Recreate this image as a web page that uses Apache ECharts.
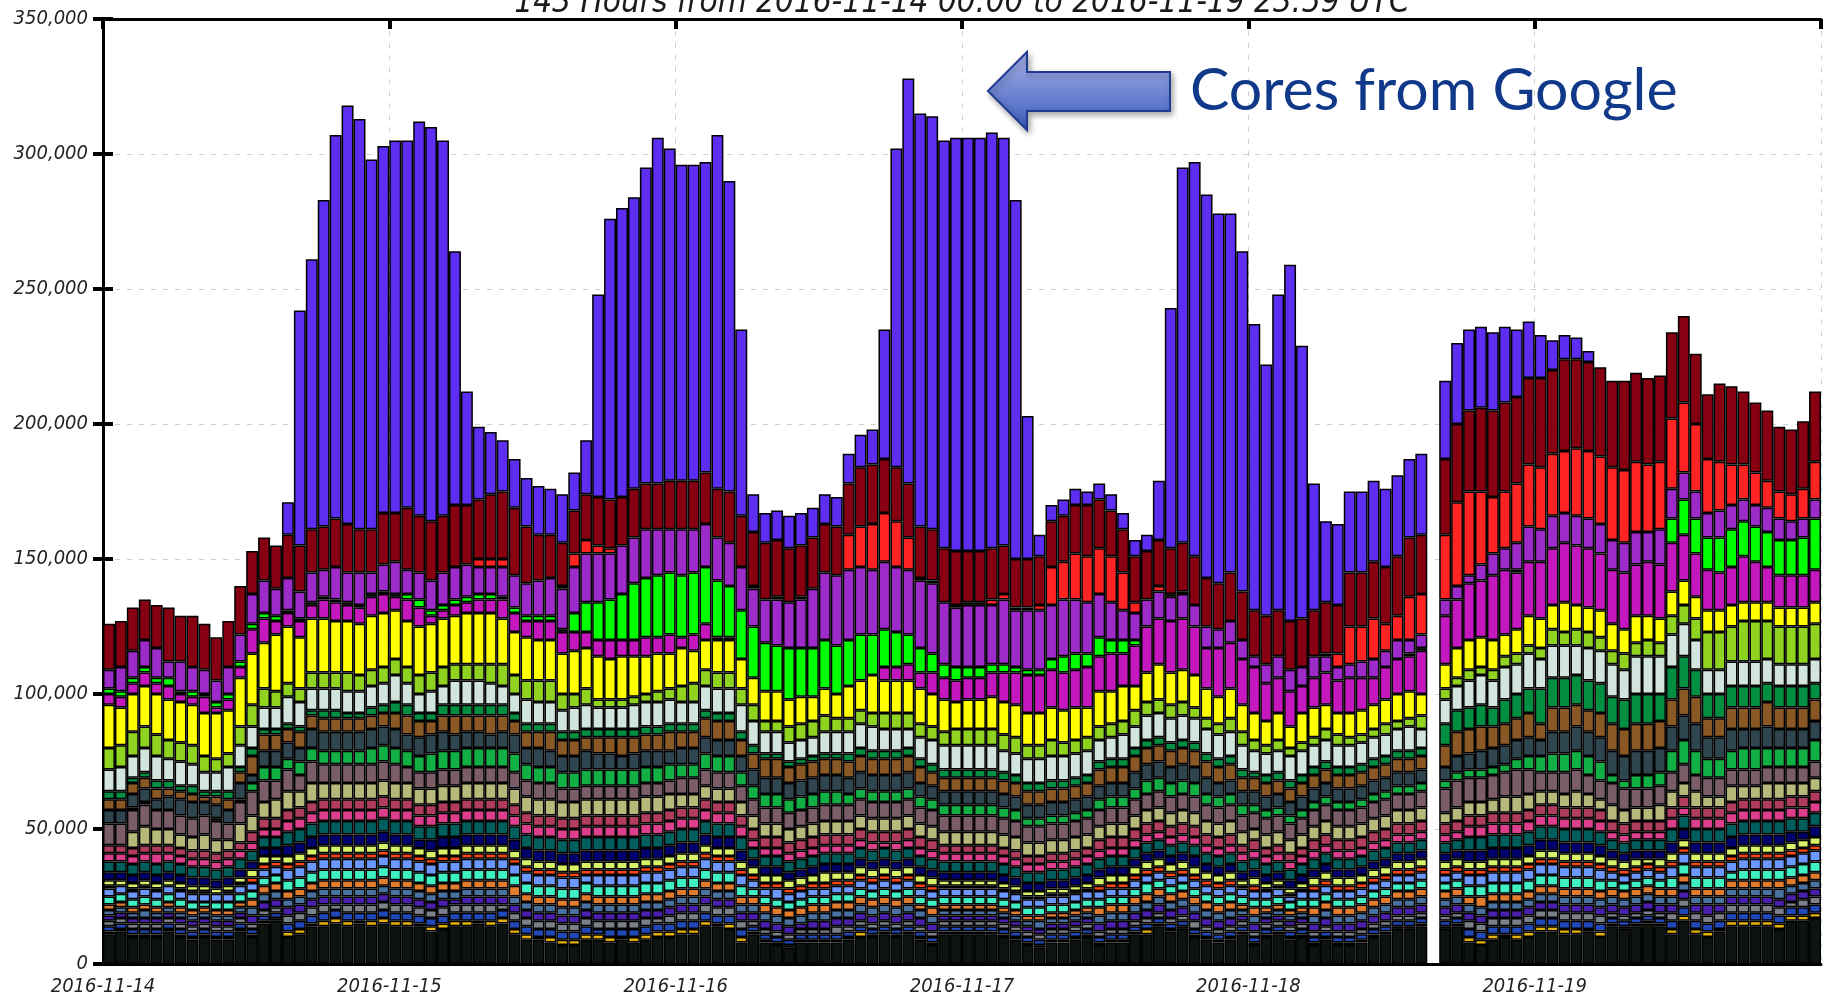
<!DOCTYPE html>
<html>
<head>
<meta charset="utf-8">
<title>Cores per hour</title>
<script src="https://cdn.jsdelivr.net/npm/echarts@6/dist/echarts.min.js"></script>
<style>
  html, body { margin: 0; padding: 0; background: #fff; }
  #chart { width: 1830px; height: 999px; }
</style>
</head>
<body>
<div id="chart"></div>
<script>
// all values in thousands of cores, one entry per hour (144 slots, hour 111 has no data)
var dayLabels = ['2016-11-14', '2016-11-15', '2016-11-16', '2016-11-17', '2016-11-18', '2016-11-19'];
var yTicks = [0, 50000, 100000, 150000, 200000, 250000, 300000, 350000];

// cumulative tops of the big layers
var topTotal = [
126,127,132,135,133,132,129,129,126,121,127,140,153,158,155,171,242,261,283,307,318,313,298,303,
305,305,312,310,305,264,212,199,197,194,187,180,177,176,174,182,194,248,276,280,284,295,306,302,
296,296,297,307,290,235,174,167,168,166,167,169,174,173,189,196,198,235,302,328,315,314,305,306,
306,306,308,306,283,203,159,170,172,176,175,178,174,167,157,159,179,243,295,297,285,278,278,264,
237,222,248,259,229,178,164,163,175,175,179,176,181,187,189,null,216,230,235,236,234,236,235,238,
233,231,233,232,227,221,216,216,219,217,218,234,240,226,211,215,214,212,208,205,199,198,201,212];
var topDarkRed = [
126,127,132,135,133,132,129,129,126,121,127,140,153,158,155,159,155,161,162,165,163,161,161,167,
167,169,166,164,166,170,170,172,174,175,169,162,159,159,156,168,174,173,172,173,176,178,178,179,
179,179,182,176,175,166,160,156,157,154,155,158,163,162,178,184,185,187,184,178,162,161,154,153,
153,153,154,155,150,150,151,164,166,170,170,172,168,161,151,153,157,154,156,151,143,141,145,138,
131,129,131,127,128,131,134,133,145,145,149,147,151,158,159,null,187,200,205,206,205,208,210,217,
217,220,224,224,223,221,216,216,219,217,218,234,240,226,211,215,214,212,208,205,199,198,201,212];
var topRed = [
109,110,116,120,117,112,112,110,109,105,110,122,137,142,139,143,138,145,146,147,145,145,145,148,
149,146,145,142,145,147,148,150,150,150,144,141,142,143,140,152,157,155,154,155,158,161,161,161,
161,161,163,158,156,147,140,135,136,134,136,139,145,144,159,162,163,167,164,158,143,142,134,133,
134,134,135,137,132,132,133,147,149,152,151,154,151,145,134,135,140,137,138,133,125,124,127,120,
114,111,114,109,110,114,115,115,125,125,128,126,129,136,137,null,159,171,175,175,173,175,178,185,
184,189,190,191,190,188,184,183,186,185,186,202,208,200,187,186,185,185,182,179,175,174,176,186];
var topPurple = [
109,110,116,120,117,112,112,110,109,105,110,122,137,142,139,143,138,145,146,147,145,145,145,148,
149,146,145,142,145,147,148,147,147,147,144,141,142,143,139,147,152,152,152,155,158,161,161,161,
161,161,163,158,156,147,139,135,135,134,135,139,145,144,146,147,146,149,147,146,142,141,134,132,
133,133,133,135,131,131,131,133,135,135,134,137,134,131,130,135,138,136,137,133,125,124,127,120,
114,111,114,109,110,114,114,110,111,112,113,116,120,120,122,null,135,140,144,148,152,154,156,162,
161,166,167,166,165,163,157,156,160,160,161,176,182,175,167,168,170,172,170,169,165,164,165,172];
var topGreen = [
102,101,106,110,106,106,101,101,100,97,100,112,126,130,129,131,128,134,136,135,134,133,137,138,
137,137,135,131,133,135,136,137,137,136,132,129,129,129,124,130,134,134,135,137,141,143,144,145,
144,145,147,142,140,131,125,119,118,117,117,117,120,118,120,122,122,124,123,122,117,115,111,110,
110,110,111,111,110,109,109,113,114,115,115,121,120,120,120,125,128,127,128,125,117,117,119,113,
110,104,106,101,103,106,108,105,106,106,106,110,113,115,117,null,129,135,141,142,144,146,146,149,
149,154,156,155,154,152,146,145,148,149,148,165,172,165,158,158,161,164,162,160,157,157,158,165];
var topMagenta = [
100,99,104,108,104,103,100,99,99,95,98,110,124,128,127,130,127,133,135,134,133,132,136,137,
136,135,132,129,131,133,134,135,135,135,130,127,127,127,123,123,123,120,120,120,120,121,121,122,
121,122,126,121,121,113,106,101,101,98,99,99,102,100,103,105,107,110,110,111,108,108,106,105,
106,106,108,108,108,107,107,109,108,109,110,114,115,115,118,125,128,127,128,125,117,117,119,113,
110,104,106,101,103,106,108,105,106,106,106,110,113,114,116,null,129,135,141,142,144,146,145,149,
149,154,156,155,154,152,146,145,148,149,148,156,159,152,146,145,147,151,149,147,144,144,144,146];
var topYellow = [
96,95,100,103,100,98,97,96,93,93,94,106,115,119,122,125,121,128,128,127,127,126,129,130,
131,127,125,126,128,129,130,130,130,128,123,121,120,120,115,116,117,114,113,114,114,114,115,115,
117,116,120,120,120,113,106,101,101,98,99,99,102,100,103,105,107,105,105,105,102,100,98,97,
98,98,99,97,96,93,93,95,94,95,95,101,101,103,103,108,111,108,109,107,102,99,102,96,
93,90,93,88,93,95,96,93,93,94,96,98,100,101,100,null,111,117,120,121,120,122,124,129,
128,133,134,133,132,131,126,124,129,129,128,138,142,136,131,131,133,134,134,134,132,132,132,134];
var topYellowGreen = [
80,81,86,88,85,83,82,81,77,76,78,88,96,102,101,104,102,108,108,108,108,107,109,110,
113,110,107,108,110,111,111,111,111,111,107,105,105,105,100,100,102,98,98,98,99,100,101,102,
103,104,109,108,108,102,96,90,90,88,89,90,92,91,91,94,93,93,93,93,89,88,86,87,
87,87,87,85,84,81,81,83,82,83,84,88,89,90,94,97,98,96,97,95,91,89,91,86,
83,81,83,80,82,84,87,85,84,85,87,89,90,91,92,null,102,106,109,110,109,114,115,118,
117,124,123,124,123,121,116,115,119,120,119,129,133,128,123,123,125,127,127,127,125,125,125,126];
var topLightGray = [
72,73,77,80,77,76,75,74,71,71,73,81,88,95,95,99,97,102,102,102,101,101,103,104,
107,104,100,101,103,105,105,105,104,103,100,98,97,97,94,95,96,95,95,95,96,97,97,98,
97,97,103,102,102,96,90,86,86,82,83,84,86,86,86,89,88,87,87,87,84,83,81,81,
81,81,81,79,78,76,76,77,77,78,79,83,84,85,88,92,93,91,92,91,87,85,86,81,
79,78,79,77,79,81,83,81,81,82,84,85,87,88,87,null,98,103,105,107,105,110,111,115,
113,118,118,118,117,116,111,109,114,114,114,122,126,120,109,109,112,112,112,113,111,111,111,113];

// middle layers (thickness)
var darkGreen = [
3,3,2,2,3,3,2,3,2,2,3,2,3,2,2,2,2,2,3,3,2,2,3,3,
4,4,3,3,4,4,4,4,4,4,3,3,3,3,3,3,3,3,3,3,3,3,3,3,
3,3,3,3,3,3,3,2,2,2,2,2,2,2,3,3,3,3,3,3,3,3,3,3,
3,3,3,3,3,3,3,3,3,3,3,3,3,3,3,3,3,3,3,3,3,3,3,3,
2,3,3,3,3,3,3,3,3,3,3,3,3,3,3,0,8,8,8,8,7,9,9,9,
13,11,11,11,11,11,10,11,11,11,10,12,12,10,9,9,8,8,8,7,8,8,8,6];
var brown = [
4,4,4,4,4,3,3,3,2,3,4,4,7,6,6,5,6,5,5,5,5,5,5,5,
6,7,6,5,6,7,6,6,7,6,5,6,6,7,6,6,5,6,6,7,6,6,6,7,
6,6,7,7,7,6,6,7,7,6,6,6,6,6,6,6,6,6,6,6,6,5,5,5,
5,5,5,5,5,5,5,5,5,5,5,6,6,6,6,6,6,6,6,6,6,6,6,5,
5,5,5,5,5,5,5,5,5,5,5,5,5,5,5,0,8,9,9,9,8,8,8,9,
6,9,9,8,8,9,10,10,10,10,10,10,10,10,7,7,8,8,8,9,8,8,8,8];
var slate = [
5,5,5,5,4,5,6,6,5,5,5,6,3,6,6,6,5,7,7,7,7,7,7,7,
7,6,7,7,7,6,6,6,5,6,7,6,7,6,6,6,7,6,6,5,6,6,6,5,
6,6,6,6,6,6,6,6,6,6,6,6,6,6,6,6,6,6,6,6,5,5,5,5,
5,5,5,5,5,5,5,5,5,5,5,5,5,5,6,6,6,6,6,6,6,5,5,5,
5,5,5,5,5,5,5,5,5,5,5,5,5,5,5,0,5,6,6,7,7,7,7,7,
6,8,8,9,9,9,9,9,9,9,9,9,9,10,8,8,8,7,7,8,7,7,7,7];
var midGreen = [
0,0,1,1,0,0,0,0,0,1,0,1,3,5,5,4,5,5,5,5,5,5,6,6,
6,6,6,7,7,7,7,7,7,7,7,6,6,6,6,6,6,6,6,6,6,6,6,6,
5,5,6,6,6,5,5,5,5,5,5,5,5,5,4,4,4,4,4,4,4,4,4,4,
4,4,4,4,4,3,3,3,3,3,3,4,4,4,4,5,5,5,5,5,4,4,4,4,
3,3,3,3,3,3,3,3,3,3,3,3,3,3,3,0,3,3,3,3,3,3,4,5,
6,7,7,7,7,7,3,3,5,5,5,8,9,9,7,7,7,8,8,7,7,7,7,8];
var mauve = [
8,8,8,8,7,7,7,7,7,7,6,8,9,8,7,8,6,8,7,7,7,7,7,7,
7,6,6,6,6,6,6,6,6,6,6,6,6,6,5,5,5,5,5,5,5,5,5,5,
6,6,6,6,6,6,6,6,6,6,6,6,6,6,6,6,6,6,6,6,6,6,6,6,
6,6,6,6,6,6,6,6,6,6,6,6,6,6,6,6,6,6,6,6,6,6,6,6,
6,6,6,6,6,6,6,6,6,6,6,6,6,6,6,0,9,10,9,9,9,9,10,9,
7,7,8,8,7,7,8,8,7,7,7,7,7,6,7,7,6,6,6,6,6,6,6,6];
var khaki = [
0,0,6,7,6,6,5,5,6,5,4,7,6,6,7,7,6,7,6,6,6,6,6,6,
6,6,6,6,6,6,6,6,6,6,6,6,6,6,6,6,6,6,6,6,6,6,6,6,
5,5,5,5,5,5,5,5,5,5,5,5,5,5,5,5,5,5,5,5,5,5,5,5,
5,5,5,5,5,5,5,5,5,5,5,5,5,5,5,5,5,5,5,5,5,5,5,5,
4,5,5,5,5,5,5,5,5,5,5,5,5,5,5,0,4,5,5,5,5,6,6,6,
5,5,5,6,5,4,6,5,5,5,6,6,5,6,4,4,6,5,5,6,6,5,5,5];

// top of the thin multicoloured strips at the bottom
var topThin = [
44,44,43,44,44,44,43,42,42,41,42,45,49,54,54,57,58,60,61,61,61,61,61,62,
61,61,59,59,60,60,61,61,61,61,59,56,55,55,54,54,55,55,55,55,55,56,56,57,
58,58,61,60,60,55,50,47,47,45,46,47,48,48,48,50,49,49,49,50,47,46,44,44,
44,44,44,43,42,40,40,41,41,42,43,46,47,47,50,52,53,51,52,51,48,47,48,44,
46,43,44,41,43,46,48,46,46,47,49,50,52,52,53,0,52,53,55,55,56,56,56,57,
59,59,58,58,58,57,53,52,53,53,53,58,62,58,58,58,60,61,61,61,61,62,62,64];

var gold = [
1,1,1,1,1,1,1,1,1,1,1,1,1,1,1,2,2,1,2,2,2,1,2,2,
2,2,1,2,2,2,2,1,2,2,2,2,1,2,2,2,2,2,2,1,2,2,2,2,
2,2,2,1,2,2,1,1,1,1,1,1,1,1,1,2,1,1,1,1,1,1,1,1,
1,1,1,1,1,1,1,1,1,1,1,1,1,1,1,2,1,1,1,1,1,1,1,1,
1,1,1,1,1,1,1,1,1,1,1,1,1,1,1,0,1,1,2,2,2,1,2,2,
2,2,2,2,1,2,1,1,1,1,1,2,2,2,2,1,2,2,2,2,2,2,2,2];
var blue = [
2,2,2,2,2,2,2,2,2,2,2,2,2,2,2,3,3,3,3,3,3,3,3,3,
3,3,3,3,3,3,3,3,3,3,3,3,3,3,3,3,3,2,3,3,3,3,3,3,
3,3,3,3,3,3,2,2,2,2,2,2,2,2,2,2,2,2,2,2,2,2,2,2,
2,2,2,2,2,2,2,2,2,2,2,2,2,2,2,2,2,2,2,2,2,2,2,2,
2,2,2,2,2,2,2,2,2,2,2,2,2,2,2,0,2,2,3,3,3,3,3,3,
3,3,3,3,3,3,2,2,2,2,2,3,3,3,3,3,3,3,3,3,3,3,3,3];
var gray = [
2,2,2,2,2,2,2,2,2,2,2,2,2,2,2,3,3,3,3,2,3,3,3,3,
3,3,3,3,3,3,3,3,3,2,3,3,3,3,3,3,3,3,3,3,3,3,2,3,
3,3,3,3,3,3,2,2,2,2,2,2,2,3,2,2,2,2,2,2,2,2,2,2,
2,2,2,2,2,2,2,2,2,2,2,2,2,2,2,2,2,2,2,3,2,2,2,2,
2,2,2,2,2,2,2,2,2,2,2,2,2,2,2,0,2,2,3,3,3,3,3,3,
3,3,3,3,3,3,2,2,2,2,2,3,3,3,3,3,3,3,3,3,3,2,3,3];
var indigo = [
2,2,2,2,2,2,2,2,2,2,2,2,3,3,3,3,3,3,3,3,3,3,3,3,
3,3,3,3,3,2,3,3,3,3,3,3,3,3,3,3,3,3,3,3,3,3,3,3,
3,3,3,3,3,3,3,3,3,3,2,3,3,3,3,3,3,3,3,3,3,3,2,2,
2,2,2,2,2,2,2,2,2,2,2,3,3,3,3,3,3,3,3,3,3,3,3,2,
3,2,2,2,2,3,3,3,3,3,3,3,3,3,3,0,3,3,3,3,3,3,3,3,
3,3,3,3,3,3,3,3,3,3,3,3,3,3,4,3,3,3,3,3,3,3,3,3];
var steel = [
2,2,2,3,2,2,2,2,2,2,2,2,3,3,3,3,3,3,3,3,3,3,3,3,
3,3,3,3,3,3,3,3,3,3,3,3,3,3,3,3,3,3,3,3,3,3,3,3,
3,3,3,3,3,3,3,3,3,3,3,3,3,3,3,3,3,3,3,3,3,3,2,2,
2,2,2,2,2,2,3,2,2,2,2,3,3,3,3,3,3,3,3,3,3,3,3,2,
3,2,2,2,2,3,3,3,3,3,3,3,3,3,3,0,3,3,3,3,3,3,3,3,
3,3,3,3,3,3,3,3,3,3,3,3,3,3,3,3,3,3,3,3,4,3,3,3];
var orange = [
2,2,2,2,2,2,2,2,2,2,2,2,3,3,3,3,3,3,3,3,3,3,3,3,
3,3,3,3,3,3,3,3,3,3,4,3,3,3,3,3,3,3,3,3,3,3,3,3,
3,3,3,3,3,3,3,3,3,3,3,3,3,3,3,3,3,3,3,3,2,3,2,2,
2,2,2,2,2,2,2,2,2,2,2,3,3,3,3,3,3,3,3,3,3,3,3,2,
3,2,2,2,2,3,3,3,3,3,3,3,3,3,3,0,3,3,3,4,3,3,3,3,
3,3,3,3,3,3,3,3,3,3,3,3,3,3,3,3,3,3,3,3,3,3,3,3];
var aqua = [
3,3,3,3,3,3,3,3,2,3,3,3,3,3,3,4,4,4,4,4,4,4,4,4,
4,4,4,4,4,4,4,4,4,4,4,4,4,4,4,4,4,4,4,4,4,4,4,4,
4,4,4,4,4,4,3,3,3,3,3,3,3,3,3,3,3,3,3,3,3,3,3,3,
3,3,3,3,3,3,3,3,3,3,3,3,3,3,3,4,3,3,3,3,3,3,3,3,
3,3,3,3,3,3,3,3,3,3,3,3,3,3,3,0,3,3,4,4,4,4,4,4,
4,4,4,4,4,4,3,3,3,3,3,4,4,4,4,4,3,4,4,4,4,4,4,4];
var lightBlue = [
3,3,3,3,3,3,3,3,3,3,3,3,3,3,3,4,4,4,4,4,4,4,4,4,
4,4,4,4,4,4,4,4,4,4,4,4,4,4,4,4,3,4,4,4,4,4,4,4,
4,4,4,4,4,4,3,3,4,3,3,3,3,3,3,3,3,3,3,3,3,3,3,3,
3,3,3,3,3,3,3,3,3,3,3,3,3,3,3,3,3,3,3,3,3,3,3,3,
3,3,3,2,3,3,3,3,3,3,3,3,3,3,3,0,3,3,4,4,4,4,4,4,
4,4,4,4,4,4,3,3,3,3,3,4,4,4,4,4,4,4,4,4,4,4,4,4];
var orangeRed = [
1,0,1,1,1,0,1,1,1,0,1,1,2,2,2,2,2,2,2,2,2,2,2,2,
2,2,2,2,2,2,2,2,2,2,2,2,2,2,2,2,2,2,2,2,2,2,2,2,
2,2,2,2,2,2,2,2,2,2,2,2,2,2,2,2,2,2,2,2,2,2,1,1,
1,1,1,1,1,1,1,1,1,1,1,2,2,2,2,2,2,2,2,2,2,2,2,1,
2,1,1,1,1,2,2,2,2,2,2,2,2,2,2,0,2,2,2,2,2,2,2,2,
2,2,2,2,2,2,2,2,2,2,2,2,2,2,2,2,2,2,2,2,2,2,2,2];
var lime = [
2,2,2,2,2,2,2,2,2,2,2,2,3,3,2,3,3,3,3,3,3,3,3,3,
3,3,3,3,3,3,3,3,3,3,3,3,3,3,3,3,3,3,3,3,3,3,3,3,
3,3,3,3,3,3,3,3,3,3,3,3,4,3,3,3,3,3,3,3,3,3,2,2,
2,2,2,2,2,2,2,2,2,2,2,3,3,3,3,3,3,3,3,3,3,3,3,2,
3,2,2,2,2,3,3,3,3,3,3,3,3,3,3,0,3,3,3,3,3,3,3,3,
3,3,3,3,3,3,3,3,3,2,3,3,3,3,3,3,3,3,3,3,3,3,3,3];
var navy = [
3,3,3,3,3,3,3,3,3,3,3,3,3,3,3,4,4,4,4,4,4,4,4,4,
4,4,3,4,4,4,4,4,4,4,4,4,4,4,4,4,4,4,4,4,4,4,4,4,
4,4,4,4,4,4,3,3,3,3,3,3,3,3,3,3,3,3,3,3,3,3,3,3,
3,3,3,3,3,3,3,3,3,3,3,3,3,3,3,3,3,3,3,4,3,3,3,3,
3,3,3,3,3,3,3,3,3,3,3,3,3,3,3,0,3,3,4,4,4,4,4,4,
4,4,4,4,4,4,3,3,3,3,3,4,4,4,4,4,4,4,4,4,4,4,3,4];
var teal = [
4,4,4,4,4,4,4,4,4,4,4,4,4,4,4,5,5,5,5,5,5,5,5,5,
5,5,5,5,5,5,5,5,5,5,5,5,5,5,5,5,5,5,5,5,5,5,5,5,
5,5,5,5,5,5,4,4,4,4,4,4,4,4,4,4,4,4,4,4,4,4,4,4,
4,4,4,4,4,4,4,4,4,4,4,4,4,4,4,4,4,4,4,4,4,4,4,4,
4,4,4,4,4,4,4,4,4,4,4,4,4,4,4,0,4,4,5,5,5,5,5,5,
5,5,5,5,5,5,4,4,4,4,4,5,5,5,5,5,5,5,5,5,5,5,5,5];
var pink = [
3,3,3,3,4,3,3,3,3,3,3,3,3,3,3,4,4,4,4,4,4,4,4,4,
4,4,4,4,4,4,4,4,4,4,4,4,4,4,4,4,4,4,4,4,4,4,4,4,
4,4,4,4,4,4,3,3,3,3,3,3,3,3,3,3,3,2,3,3,3,3,3,3,
3,3,3,3,3,3,3,3,3,3,3,3,3,3,3,3,3,3,3,3,3,3,3,3,
3,3,3,3,3,3,3,3,3,3,3,3,3,3,3,0,3,3,4,4,4,4,4,4,
4,4,4,4,4,4,3,3,3,3,3,4,3,4,4,4,4,4,4,4,4,4,4,4];
var rose = [
3,3,3,3,3,3,3,3,3,3,3,3,4,4,4,4,4,4,4,4,4,4,4,4,
4,4,4,4,4,4,4,4,4,4,4,4,4,4,4,4,4,4,4,4,4,4,4,4,
4,4,4,4,4,4,4,4,4,4,4,4,4,4,4,4,4,4,4,4,4,4,3,3,
3,3,3,3,3,3,3,3,3,3,3,4,4,4,4,4,4,4,4,4,4,4,4,3,
4,3,3,3,3,4,4,4,4,4,4,4,4,4,4,0,4,4,4,4,4,4,4,4,
4,4,4,4,4,4,4,4,4,4,4,4,4,4,4,4,4,4,4,4,4,4,4,4];

var K = 1000;
var hours = [];
dayLabels.forEach(function (d) {
  for (var h = 0; h < 24; h++) hours.push(d + ' ' + (h < 10 ? '0' : '') + h + ':00');
});

function cell(i, v) {
  if (topTotal[i] == null || !(v > 0)) return null;
  return v * K;
}
function band(top, bottom) {
  return top.map(function (v, i) { return cell(i, v - bottom[i]); });
}
function layer(arr) {
  return arr.map(function (v, i) { return cell(i, v); });
}

var thinLayers = [
  ['gold', '#e6b10a', gold], ['blue', '#2148b8', blue], ['gray', '#7c8088', gray],
  ['indigo', '#4b1fae', indigo], ['steel', '#4a72a0', steel], ['orange', '#e27b2c', orange],
  ['aqua', '#3ef0c2', aqua], ['light blue', '#6c97fc', lightBlue], ['orange red', '#ff4512', orangeRed],
  ['lime', '#d7f266', lime], ['navy', '#02026e', navy], ['teal', '#005e5c', teal],
  ['pink', '#dd3f8d', pink], ['rose', '#b03d5d', rose]
];
var thinSum = topThin.map(function (v, i) {
  var s = 0;
  thinLayers.forEach(function (t) { s += t[2][i]; });
  return s;
});
var midLayers = [
  ['khaki', '#b6b979', khaki], ['mauve', '#7b5d69', mauve], ['mid green', '#12b044', midGreen],
  ['slate', '#2f4550', slate], ['brown', '#8a5824', brown], ['dark green', '#028f42', darkGreen]
];
var midTop = topThin.map(function (v, i) {
  var s = v;
  midLayers.forEach(function (t) { s += t[2][i]; });
  return s;
});

var stack = [['base', '#0d1410', band(topThin, thinSum)]];
thinLayers.forEach(function (t) { stack.push([t[0], t[1], layer(t[2])]); });
midLayers.forEach(function (t) { stack.push([t[0], t[1], layer(t[2])]); });
stack.push(['light gray', '#d2e5dc', band(topLightGray, midTop)]);
stack.push(['yellow green', '#8fd220', band(topYellowGreen, topLightGray)]);
stack.push(['yellow', '#ffff00', band(topYellow, topYellowGreen)]);
stack.push(['magenta', '#c417be', band(topMagenta, topYellow)]);
stack.push(['green', '#00ff00', band(topGreen, topMagenta)]);
stack.push(['purple', '#9c2bc9', band(topPurple, topGreen)]);
stack.push(['red', '#ff2323', band(topRed, topPurple)]);
stack.push(['dark red', '#860012', band(topDarkRed, topRed)]);
stack.push(['Google', '#5d2ef2', band(topTotal, topDarkRed)]);

var series = stack.map(function (s) {
  return {
    name: s[0],
    type: 'bar',
    stack: 'cores',
    xAxisIndex: 0,
    yAxisIndex: 0,
    barCategoryGap: '0%',
    data: s[2],
    itemStyle: { color: s[1], borderColor: '#000', borderWidth: 1.5 }
  };
});

var labelFont = '"DejaVu Sans Condensed", "DejaVu Sans", sans-serif';

// fit the annotation text to its width in the picture
var ctx = document.createElement('canvas').getContext('2d');
ctx.font = '100px Lato';
var noteSize = Math.round(100 * 484 / ctx.measureText('Cores from Google').width);

var chart = echarts.init(document.getElementById('chart'));
chart.setOption({
  animation: false,
  grid: { left: 103, right: 9, top: 19, bottom: 35 },
  xAxis: [{
    type: 'category',
    data: hours,
    show: false
  }, {
    type: 'value',
    min: 0, max: 144, interval: 24,
    position: 'bottom',
    axisLine: { show: true, lineStyle: { color: '#000', width: 3 } },
    axisTick: { show: false },
    axisLabel: {
      formatter: function (v) { return dayLabels[v / 24] || ''; },
      fontFamily: labelFont, fontStyle: 'italic', fontSize: 20, color: '#222', margin: 13
    },
    splitLine: { show: true, lineStyle: { color: '#cfcfcf', type: [5, 7], width: 1 } }
  }, {
    type: 'value',
    min: 0, max: 144, interval: 24,
    position: 'top',
    axisLine: { show: true, lineStyle: { color: '#000', width: 3 } },
    axisTick: { show: true, inside: true, length: 10, lineStyle: { color: '#000', width: 4 } },
    axisLabel: { show: false },
    splitLine: { show: false }
  }],
  yAxis: [{
    type: 'value',
    min: yTicks[0], max: yTicks[yTicks.length - 1], interval: 50000,
    position: 'left',
    axisLine: { show: true, lineStyle: { color: '#000', width: 3 } },
    axisTick: { show: true, inside: true, length: 10, lineStyle: { color: '#000', width: 4 } },
    axisLabel: {
      formatter: function (v) { return v.toLocaleString('en-US'); },
      fontFamily: labelFont, fontStyle: 'italic', fontSize: 20, color: '#222', margin: 15
    },
    splitLine: { show: true, lineStyle: { color: '#cfcfcf', type: [5, 7], width: 1 } }
  }, {
    type: 'value',
    min: yTicks[0], max: yTicks[yTicks.length - 1], interval: 50000,
    position: 'right',
    axisLine: { show: true, lineStyle: { color: '#000', width: 3 } },
    axisTick: { show: true, inside: true, length: 10, lineStyle: { color: '#000', width: 4 } },
    axisLabel: { show: false },
    splitLine: { show: false }
  }],
  graphic: [{
    type: 'text',
    x: 962, y: 20, z: 100,
    style: {
      text: '143 Hours from 2016-11-14 00:00 to 2016-11-19 23:59 UTC',
      font: 'italic 33px ' + labelFont,
      fill: '#1a1a1a', align: 'center', verticalAlign: 'bottom'
    }
  }, {
    type: 'polygon',
    z: 100,
    shape: { points: [[988, 91], [1027, 52], [1027, 72], [1170, 72], [1170, 111], [1027, 111], [1027, 130]] },
    style: {
      fill: new echarts.graphic.LinearGradient(0, 0, 0, 1, [
        { offset: 0, color: '#aab4e8' }, { offset: 1, color: '#3a5bbd' }
      ]),
      stroke: '#1f3c92', lineWidth: 2,
      shadowBlur: 6, shadowOffsetX: 2, shadowOffsetY: 3, shadowColor: 'rgba(0,0,0,0.35)'
    }
  }, {
    type: 'text',
    x: 1190, y: 91, z: 100,
    style: {
      text: 'Cores from Google',
      font: noteSize + 'px Lato, sans-serif',
      fill: '#10398a', verticalAlign: 'middle'
    }
  }],
  series: series
});
</script>
</body>
</html>
